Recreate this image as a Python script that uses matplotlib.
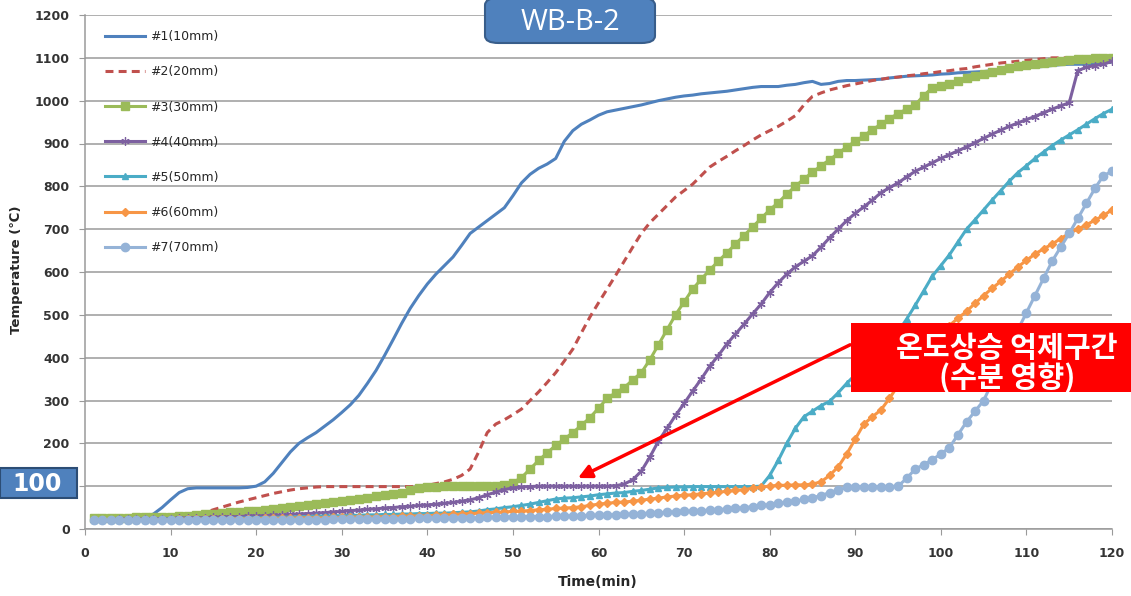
"""WB-B-2 temperature history at depth (10-70 mm) with 100 C plateau callouts."""

import matplotlib
matplotlib.use("Agg")
import matplotlib.pyplot as plt
import numpy as np
from matplotlib.patches import FancyBboxPatch, Rectangle

plt.rcParams["font.family"] = ["DejaVu Sans"]

# one reading per minute, 1..120 min
time_min = list(range(1, 121))

t_10mm = [25, 25, 25, 25, 25, 25, 27, 35, 50, 68,
          85, 94, 96, 96, 96, 96, 96, 96, 97, 100,
          110, 130, 155, 180, 200, 213, 225, 240, 255, 272,
          290, 312, 340, 370, 405, 442, 480, 515, 545, 572,
          595, 615, 635, 662, 690, 705, 720, 735, 750, 778,
          808, 828, 842, 852, 865, 905, 930, 945, 955, 966,
          974, 978, 982, 986, 990, 995, 1000, 1004, 1008, 1011,
          1013, 1016, 1018, 1020, 1022, 1025, 1028, 1031, 1033, 1033,
          1033, 1036, 1038, 1042, 1045, 1038, 1040, 1045, 1047, 1047,
          1048, 1049, 1050, 1053, 1055, 1057, 1058, 1059, 1060, 1062,
          1063, 1065, 1066, 1067, 1068, 1070, 1072, 1074, 1075, 1077,
          1078, 1080, 1082, 1084, 1085, 1085, 1085, 1087, 1088, 1090]
t_20mm = [25, 25, 25, 25, 25, 25, 25, 25, 25, 25,
          26, 28, 32, 38, 45, 51, 57, 63, 68, 73,
          78, 83, 87, 91, 94, 96, 98, 99, 99, 99,
          99, 99, 99, 99, 99, 99, 99, 99, 100, 102,
          106, 110, 116, 125, 140, 180, 225, 245, 255, 267,
          280, 300, 320, 342, 365, 392, 420, 458, 495, 528,
          560, 592, 625, 658, 690, 715, 735, 755, 775, 790,
          805, 825, 845, 858, 870, 883, 895, 908, 920, 930,
          940, 952, 965, 990, 1010, 1018, 1025, 1030, 1035, 1039,
          1043, 1047, 1050, 1053, 1055, 1058, 1060, 1063, 1065, 1068,
          1070, 1073, 1075, 1079, 1082, 1085, 1088, 1090, 1092, 1094,
          1096, 1098, 1100, 1100, 1100, 1100, 1100, 1100, 1100, 1100]
t_30mm = [25, 25, 25, 26, 26, 27, 27, 28, 28, 29,
          30, 31, 33, 34, 36, 37, 39, 40, 42, 43,
          45, 47, 49, 51, 53, 55, 58, 60, 63, 65,
          68, 70, 73, 76, 79, 82, 85, 90, 96, 98,
          99, 100, 100, 100, 100, 100, 101, 101, 102, 108,
          120, 140, 160, 178, 195, 210, 225, 242, 260, 282,
          305, 318, 330, 348, 365, 395, 430, 465, 500, 530,
          560, 583, 605, 625, 645, 665, 685, 705, 725, 745,
          762, 782, 800, 817, 833, 848, 862, 877, 892, 905,
          918, 932, 945, 958, 970, 980, 990, 1012, 1030, 1035,
          1040, 1046, 1052, 1057, 1062, 1067, 1072, 1076, 1080, 1083,
          1085, 1088, 1090, 1093, 1095, 1097, 1098, 1099, 1100, 1100]
t_40mm = [22, 22, 22, 23, 23, 23, 23, 24, 24, 24,
          25, 25, 26, 26, 27, 27, 28, 29, 30, 30,
          31, 32, 33, 34, 35, 36, 37, 38, 40, 41,
          43, 44, 46, 47, 49, 50, 52, 53, 55, 56,
          58, 60, 62, 65, 68, 73, 80, 86, 92, 96,
          98, 99, 100, 100, 100, 100, 100, 100, 100, 100,
          100, 101, 105, 115, 135, 168, 205, 235, 265, 293,
          322, 350, 380, 405, 432, 455, 478, 502, 525, 552,
          575, 595, 612, 625, 638, 658, 680, 700, 720, 737,
          752, 768, 785, 797, 808, 822, 835, 845, 855, 865,
          874, 883, 892, 902, 912, 922, 931, 940, 948, 956,
          963, 972, 980, 988, 995, 1070, 1078, 1082, 1085, 1092]
t_50mm = [22, 22, 22, 22, 22, 22, 22, 22, 23, 23,
          23, 23, 24, 24, 24, 25, 25, 25, 26, 26,
          27, 27, 28, 28, 29, 29, 30, 30, 31, 31,
          32, 32, 33, 33, 34, 34, 35, 35, 36, 36,
          37, 37, 38, 39, 40, 42, 45, 47, 50, 52,
          55, 58, 62, 66, 70, 72, 73, 75, 77, 80,
          82, 84, 85, 88, 90, 93, 96, 97, 98, 98,
          99, 99, 99, 99, 99, 99, 99, 99, 100, 125,
          160, 200, 235, 262, 275, 288, 298, 318, 340, 360,
          380, 400, 420, 440, 460, 490, 522, 556, 590, 615,
          640, 670, 700, 722, 745, 768, 790, 812, 832, 848,
          865, 880, 895, 908, 920, 932, 945, 958, 970, 980]
t_60mm = [22, 22, 22, 22, 22, 22, 22, 22, 22, 22,
          23, 23, 23, 23, 23, 23, 24, 24, 24, 24,
          25, 25, 25, 25, 26, 26, 26, 26, 27, 27,
          28, 28, 28, 28, 29, 29, 30, 30, 31, 31,
          32, 33, 34, 35, 36, 37, 38, 39, 40, 41,
          42, 43, 45, 46, 48, 49, 50, 52, 55, 58,
          60, 62, 63, 65, 67, 70, 72, 75, 77, 79,
          80, 82, 84, 86, 88, 90, 92, 95, 98, 100,
          102, 102, 103, 103, 105, 110, 125, 145, 175, 210,
          245, 262, 278, 305, 335, 365, 395, 415, 435, 455,
          475, 492, 508, 527, 545, 562, 578, 595, 612, 627,
          642, 654, 665, 678, 690, 700, 710, 721, 732, 745]
t_70mm = [20, 20, 20, 20, 20, 20, 20, 20, 20, 20,
          20, 20, 21, 21, 21, 21, 21, 21, 21, 21,
          22, 22, 22, 22, 22, 22, 22, 22, 23, 23,
          23, 23, 23, 23, 24, 24, 24, 24, 25, 25,
          25, 25, 26, 26, 26, 26, 27, 27, 28, 28,
          29, 29, 29, 29, 30, 30, 31, 31, 32, 32,
          33, 33, 34, 35, 36, 37, 38, 39, 40, 41,
          42, 43, 44, 45, 47, 48, 50, 52, 55, 57,
          60, 62, 65, 69, 73, 78, 85, 91, 97, 98,
          99, 99, 99, 99, 100, 118, 140, 150, 162, 175,
          190, 220, 250, 275, 300, 342, 385, 425, 465, 505,
          545, 585, 625, 658, 690, 725, 760, 795, 825, 835]

y_ticks = list(range(0, 1201, 100))
x_ticks = list(range(0, 121, 10))

series = [
    ("#1(10mm)", t_10mm, "#4F81BD", dict(marker=None)),
    ("#2(20mm)", t_20mm, "#C0504D", dict(marker=None, dashes=(2.6, 1.7))),
    ("#3(30mm)", t_30mm, "#9BBB59", dict(marker="s", markersize=5.5)),
    ("#4(40mm)", t_40mm, "#7D60A0", dict(marker=(6, 2, 0), markersize=6, markeredgewidth=0.9)),
    ("#5(50mm)", t_50mm, "#4BACC6", dict(marker="^", markersize=5)),
    ("#6(60mm)", t_60mm, "#F79646", dict(marker="D", markersize=4)),
    ("#7(70mm)", t_70mm, "#95B3D7", dict(marker="o", markersize=6)),
]

fig = plt.figure(figsize=(11.31, 5.96), dpi=100)
ax = fig.add_axes([85 / 1131, 67 / 596, 1027 / 1131, 514 / 596])

for label, temps, color, style in series:
    ax.plot(time_min, temps, color=color, linewidth=2.2, label=label,
            markerfacecolor=color, markeredgecolor=color, **style)

ax.set_xlim(0, 120)
ax.set_ylim(0, 1200)
ax.set_xticks(x_ticks)
ax.set_yticks(y_ticks)
# the "100" callout box sits on top of the 100 tick label
ax.set_yticklabels(["" if v == 100 else str(v) for v in y_ticks])
ax.yaxis.grid(True, color="#9a9a9a", linewidth=1.1)
ax.set_axisbelow(True)
for side in ("top", "right"):
    ax.spines[side].set_visible(False)
for side in ("left", "bottom"):
    ax.spines[side].set_color("#9a9a9a")
    ax.spines[side].set_linewidth(1.1)
ax.tick_params(axis="x", length=4, pad=9, color="#9a9a9a", labelsize=9, labelcolor="#333333")
ax.tick_params(axis="y", length=4, pad=7, color="#9a9a9a", labelsize=9, labelcolor="#333333")
for lbl in ax.get_xticklabels() + ax.get_yticklabels():
    lbl.set_fontweight("bold")

leg = ax.legend(loc="upper left", bbox_to_anchor=(0.0146, 0.980), borderaxespad=0,
                frameon=False, fontsize=9, handlelength=3.2, handletextpad=0.4,
                labelspacing=1.77, numpoints=1)
for txt in leg.get_texts():
    txt.set_color("#262626")

fig.text(17 / 1131, 1 - 270 / 596, "Temperature (℃)", rotation=90, ha="center", va="center",
         fontsize=9.5, fontweight="bold", color="#262626")
fig.text(598 / 1131, 1 - 582 / 596, "Time(min)", ha="center", va="center",
         fontsize=10, fontweight="bold", color="#262626")

# title box
fig.patches.append(FancyBboxPatch((485 / 1131, 1 - 43 / 596), 170 / 1131, 45 / 596,
                                  boxstyle="round,pad=0,rounding_size=0.012",
                                  transform=fig.transFigure, facecolor="#4F81BD",
                                  edgecolor="#385D8A", linewidth=1.5, zorder=3))
fig.text(570 / 1131, 1 - 22 / 596, "WB-B-2", ha="center", va="center", color="white",
         fontsize=21, family=["Open Sans", "DejaVu Sans"], zorder=4)

# 100 label box
fig.patches.append(Rectangle((0, 1 - 498 / 596), 77 / 1131, 30 / 596, transform=fig.transFigure,
                             facecolor="#4F81BD", edgecolor="#2C4D75", linewidth=1.5, zorder=3))
fig.text(37 / 1131, 1 - 484 / 596, "100", ha="center", va="center", color="white",
         fontsize=17, fontweight="bold", zorder=4)

# arrow to the 100 C plateau
ax.annotate("", xy=(57.6, 119), xytext=(89.4, 430),
            arrowprops=dict(arrowstyle="-|>", color="#FF0000", lw=2.5, mutation_scale=20,
                            shrinkA=0, shrinkB=0))

# red callout
fig.patches.append(Rectangle((851 / 1131, 1 - 392 / 596), 280 / 1131, 69 / 596,
                             transform=fig.transFigure, facecolor="#FF0000",
                             edgecolor="none", zorder=3))
fig.text(1007 / 1131, 1 - 363 / 596, "온도상승 억제구간\n(수분 영향)", ha="center", va="center",
         color="white", fontsize=21, fontweight="bold", linespacing=1.0,
         family=["Noto Sans CJK KR", "DejaVu Sans"], zorder=4)

fig.savefig("out.png", dpi=100)
